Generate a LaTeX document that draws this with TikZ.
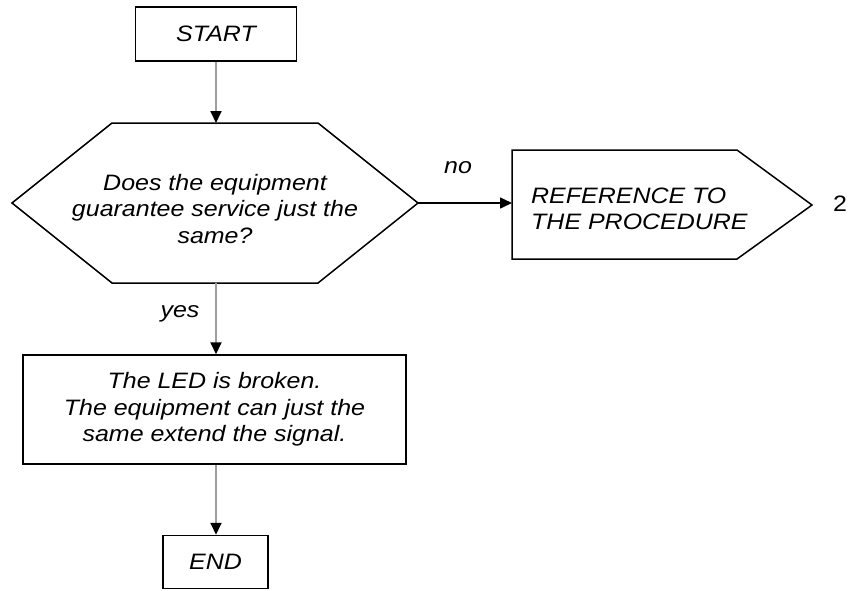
\documentclass[tikz,border=0pt]{standalone}
\usepackage{fontspec}
\setmainfont[FakeStretch=1.12]{Liberation Sans}
\usetikzlibrary{arrows.meta}
\begin{document}
\begin{tikzpicture}[x=1pt,y=-1pt,
  txt/.style={font=\fontsize{22.3}{26.5}\selectfont\itshape, align=center, inner sep=0pt},
  boxline/.style={draw=black, line width=1.5pt},
  flow/.style={draw=black!38, line width=1.8pt, -{Triangle[length=12pt,width=11pt,color=black]}},
  noflow/.style={draw=black, line width=1.5pt, -{Triangle[length=12pt,width=11pt,color=black]}}]
\useasboundingbox (0,0) rectangle (850,590);
% START
\node[boxline, txt, minimum width=161pt, minimum height=54pt] (start) at (216,34) {START};
% decision hexagon
\draw[boxline] (112,123) -- (318,123) -- (418,203) -- (318,283) -- (112,283) -- (12,203) -- cycle;
\coordinate (qtop) at (216,123);
\coordinate (qbot) at (216,283);
\coordinate (qright) at (418,203);
\node[txt] (q) at (215,209) {Does the equipment\\guarantee service just the\\same?};
% reference pentagon
\draw[boxline] (512,150) -- (737,150) -- (812,205) -- (737,259) -- (512,259) -- cycle;
\coordinate (pleft) at (512,203);
\node[txt, align=left, anchor=west] (ref) at (531,209) {REFERENCE TO\\THE PROCEDURE};
\node[font=\fontsize{22.3}{26.5}\selectfont, inner sep=0pt] (two) at (840,204) {2};
% action box
\node[boxline, txt, minimum width=383pt, minimum height=109pt] (led) at (214.5,409.5) {The LED is broken.\\The equipment can just the\\same extend the signal.};
% END
\node[boxline, txt, minimum width=105pt, minimum height=53pt] (end) at (215.5,562) {END};
% connectors
\draw[flow] (start) -- (qtop);
\draw[noflow] (qright) -- (pleft);
\node[txt] (nolab) at (458,168) {no};
\draw[flow] (qbot) -- (qbot |- led.north);
\node[txt] (yeslab) at (180,314) {yes};
\draw[flow] (qbot |- led.south) -- (qbot |- end.north);
\end{tikzpicture}
\end{document}
